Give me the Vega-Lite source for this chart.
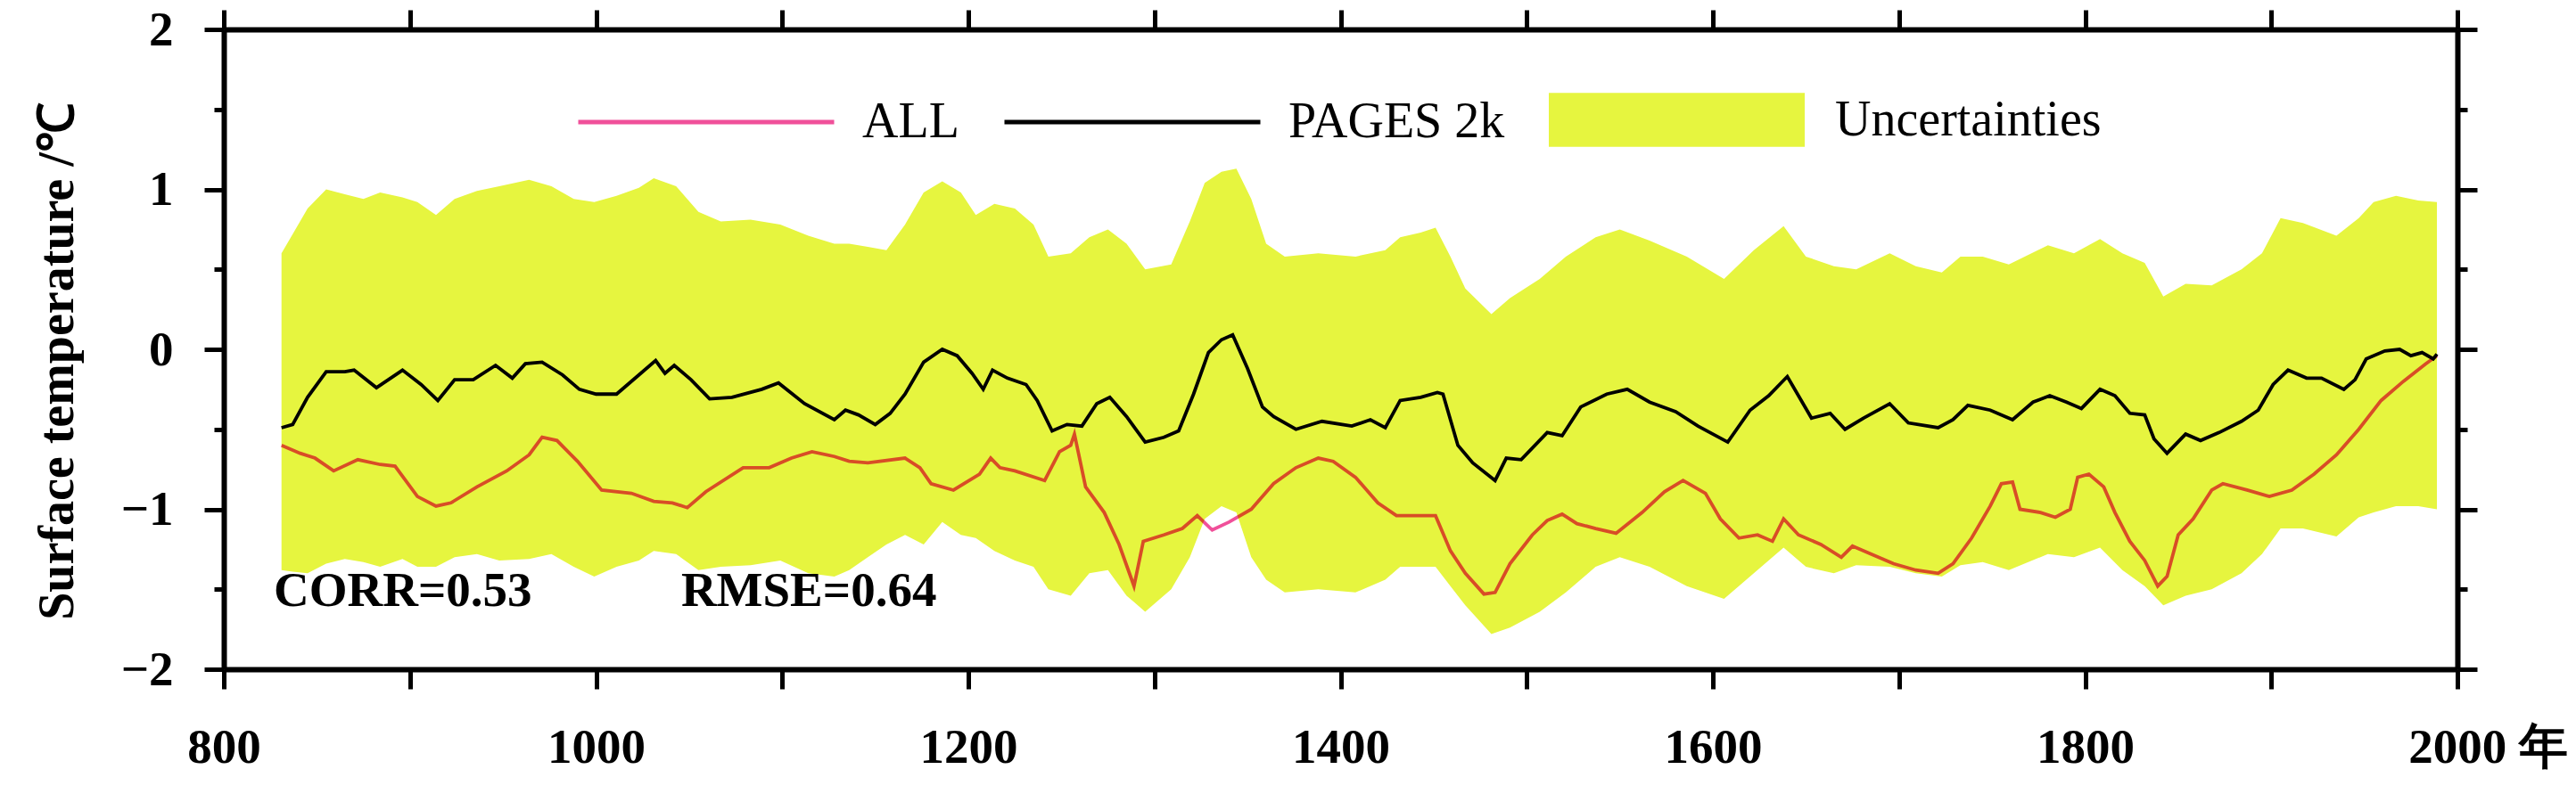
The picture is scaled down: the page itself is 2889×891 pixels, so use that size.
{
  "$schema": "https://vega.github.io/schema/vega-lite/v6.json",
  "width": 2505,
  "height": 718,
  "autosize": {"type": "none"},
  "padding": {"left": 251, "top": 33, "right": 133, "bottom": 140},
  "background": "white",
  "config": {"view": {"stroke": null}, "font": "Liberation Serif"},
  "datasets": {
    "band": [
      {"year": 831, "hi": 0.60, "lo": -1.38}, {"year": 837, "hi": 0.72, "lo": -1.39}, {"year": 845, "hi": 0.88, "lo": -1.40},
      {"year": 855, "hi": 1.00, "lo": -1.34}, {"year": 865, "hi": 0.97, "lo": -1.31}, {"year": 875, "hi": 0.94, "lo": -1.33},
      {"year": 884, "hi": 0.98, "lo": -1.36}, {"year": 896, "hi": 0.95, "lo": -1.31}, {"year": 904, "hi": 0.92, "lo": -1.36},
      {"year": 914, "hi": 0.84, "lo": -1.36}, {"year": 924, "hi": 0.94, "lo": -1.30}, {"year": 936, "hi": 0.99, "lo": -1.28},
      {"year": 948, "hi": 1.02, "lo": -1.32}, {"year": 964, "hi": 1.06, "lo": -1.31}, {"year": 976, "hi": 1.02, "lo": -1.28},
      {"year": 988, "hi": 0.94, "lo": -1.36}, {"year": 999, "hi": 0.92, "lo": -1.42}, {"year": 1011, "hi": 0.96, "lo": -1.36},
      {"year": 1023, "hi": 1.01, "lo": -1.32}, {"year": 1031, "hi": 1.07, "lo": -1.26}, {"year": 1043, "hi": 1.02, "lo": -1.28},
      {"year": 1055, "hi": 0.86, "lo": -1.38}, {"year": 1067, "hi": 0.80, "lo": -1.36}, {"year": 1083, "hi": 0.81, "lo": -1.35},
      {"year": 1099, "hi": 0.78, "lo": -1.32}, {"year": 1114, "hi": 0.71, "lo": -1.40}, {"year": 1128, "hi": 0.66, "lo": -1.42},
      {"year": 1136, "hi": 0.66, "lo": -1.38}, {"year": 1146, "hi": 0.64, "lo": -1.30}, {"year": 1156, "hi": 0.62, "lo": -1.22},
      {"year": 1166, "hi": 0.78, "lo": -1.16}, {"year": 1176, "hi": 0.98, "lo": -1.22}, {"year": 1186, "hi": 1.05, "lo": -1.08},
      {"year": 1196, "hi": 0.98, "lo": -1.16}, {"year": 1204, "hi": 0.84, "lo": -1.18}, {"year": 1214, "hi": 0.91, "lo": -1.26},
      {"year": 1225, "hi": 0.88, "lo": -1.32}, {"year": 1235, "hi": 0.78, "lo": -1.36}, {"year": 1243, "hi": 0.58, "lo": -1.50},
      {"year": 1255, "hi": 0.60, "lo": -1.54}, {"year": 1265, "hi": 0.70, "lo": -1.40}, {"year": 1275, "hi": 0.75, "lo": -1.38},
      {"year": 1285, "hi": 0.66, "lo": -1.54}, {"year": 1295, "hi": 0.50, "lo": -1.64}, {"year": 1309, "hi": 0.53, "lo": -1.50},
      {"year": 1319, "hi": 0.80, "lo": -1.30}, {"year": 1327, "hi": 1.04, "lo": -1.06}, {"year": 1336, "hi": 1.11, "lo": -0.98},
      {"year": 1344, "hi": 1.13, "lo": -1.02}, {"year": 1352, "hi": 0.94, "lo": -1.30}, {"year": 1360, "hi": 0.66, "lo": -1.44},
      {"year": 1370, "hi": 0.58, "lo": -1.52}, {"year": 1388, "hi": 0.60, "lo": -1.50}, {"year": 1408, "hi": 0.58, "lo": -1.52},
      {"year": 1424, "hi": 0.62, "lo": -1.44}, {"year": 1432, "hi": 0.70, "lo": -1.36}, {"year": 1443, "hi": 0.73, "lo": -1.36},
      {"year": 1451, "hi": 0.76, "lo": -1.36}, {"year": 1459, "hi": 0.58, "lo": -1.48}, {"year": 1467, "hi": 0.38, "lo": -1.60},
      {"year": 1481, "hi": 0.22, "lo": -1.78}, {"year": 1491, "hi": 0.32, "lo": -1.74}, {"year": 1507, "hi": 0.44, "lo": -1.64},
      {"year": 1521, "hi": 0.58, "lo": -1.52}, {"year": 1537, "hi": 0.70, "lo": -1.36}, {"year": 1550, "hi": 0.75, "lo": -1.30},
      {"year": 1566, "hi": 0.68, "lo": -1.36}, {"year": 1586, "hi": 0.58, "lo": -1.48}, {"year": 1606, "hi": 0.44, "lo": -1.56},
      {"year": 1622, "hi": 0.62, "lo": -1.40}, {"year": 1638, "hi": 0.77, "lo": -1.24}, {"year": 1650, "hi": 0.58, "lo": -1.36},
      {"year": 1665, "hi": 0.52, "lo": -1.40}, {"year": 1677, "hi": 0.50, "lo": -1.35}, {"year": 1695, "hi": 0.60, "lo": -1.36},
      {"year": 1709, "hi": 0.52, "lo": -1.40}, {"year": 1723, "hi": 0.48, "lo": -1.42}, {"year": 1733, "hi": 0.58, "lo": -1.35},
      {"year": 1745, "hi": 0.58, "lo": -1.33}, {"year": 1759, "hi": 0.53, "lo": -1.38}, {"year": 1780, "hi": 0.65, "lo": -1.28},
      {"year": 1794, "hi": 0.60, "lo": -1.30}, {"year": 1808, "hi": 0.69, "lo": -1.24}, {"year": 1820, "hi": 0.60, "lo": -1.38},
      {"year": 1832, "hi": 0.54, "lo": -1.48}, {"year": 1842, "hi": 0.33, "lo": -1.60}, {"year": 1854, "hi": 0.41, "lo": -1.54},
      {"year": 1868, "hi": 0.40, "lo": -1.50}, {"year": 1884, "hi": 0.50, "lo": -1.40}, {"year": 1895, "hi": 0.60, "lo": -1.28},
      {"year": 1905, "hi": 0.82, "lo": -1.12}, {"year": 1917, "hi": 0.79, "lo": -1.12}, {"year": 1935, "hi": 0.71, "lo": -1.17},
      {"year": 1947, "hi": 0.82, "lo": -1.05}, {"year": 1955, "hi": 0.92, "lo": -1.02}, {"year": 1967, "hi": 0.96, "lo": -0.98},
      {"year": 1979, "hi": 0.93, "lo": -0.98}, {"year": 1989, "hi": 0.92, "lo": -1.00}
    ],
    "lines": [
      {"year": 831, "series": "PAGES 2k", "value": -0.49}, {"year": 837, "series": "PAGES 2k", "value": -0.47}, {"year": 845, "series": "PAGES 2k", "value": -0.30},
      {"year": 855, "series": "PAGES 2k", "value": -0.14}, {"year": 865, "series": "PAGES 2k", "value": -0.14}, {"year": 870, "series": "PAGES 2k", "value": -0.13},
      {"year": 882, "series": "PAGES 2k", "value": -0.24}, {"year": 896, "series": "PAGES 2k", "value": -0.13}, {"year": 906, "series": "PAGES 2k", "value": -0.22},
      {"year": 915, "series": "PAGES 2k", "value": -0.32}, {"year": 924, "series": "PAGES 2k", "value": -0.19}, {"year": 934, "series": "PAGES 2k", "value": -0.19},
      {"year": 946, "series": "PAGES 2k", "value": -0.10}, {"year": 955, "series": "PAGES 2k", "value": -0.18}, {"year": 962, "series": "PAGES 2k", "value": -0.09},
      {"year": 971, "series": "PAGES 2k", "value": -0.08}, {"year": 982, "series": "PAGES 2k", "value": -0.16}, {"year": 991, "series": "PAGES 2k", "value": -0.25},
      {"year": 1000, "series": "PAGES 2k", "value": -0.28}, {"year": 1011, "series": "PAGES 2k", "value": -0.28}, {"year": 1023, "series": "PAGES 2k", "value": -0.16},
      {"year": 1032, "series": "PAGES 2k", "value": -0.07}, {"year": 1037, "series": "PAGES 2k", "value": -0.15}, {"year": 1042, "series": "PAGES 2k", "value": -0.10},
      {"year": 1051, "series": "PAGES 2k", "value": -0.19}, {"year": 1061, "series": "PAGES 2k", "value": -0.31}, {"year": 1073, "series": "PAGES 2k", "value": -0.30},
      {"year": 1089, "series": "PAGES 2k", "value": -0.25}, {"year": 1098, "series": "PAGES 2k", "value": -0.21}, {"year": 1112, "series": "PAGES 2k", "value": -0.34},
      {"year": 1128, "series": "PAGES 2k", "value": -0.44}, {"year": 1134, "series": "PAGES 2k", "value": -0.38}, {"year": 1141, "series": "PAGES 2k", "value": -0.41},
      {"year": 1150, "series": "PAGES 2k", "value": -0.47}, {"year": 1158, "series": "PAGES 2k", "value": -0.40}, {"year": 1166, "series": "PAGES 2k", "value": -0.28},
      {"year": 1176, "series": "PAGES 2k", "value": -0.08}, {"year": 1186, "series": "PAGES 2k", "value": 0.00}, {"year": 1194, "series": "PAGES 2k", "value": -0.04},
      {"year": 1202, "series": "PAGES 2k", "value": -0.15}, {"year": 1208, "series": "PAGES 2k", "value": -0.25}, {"year": 1213, "series": "PAGES 2k", "value": -0.13},
      {"year": 1221, "series": "PAGES 2k", "value": -0.18}, {"year": 1231, "series": "PAGES 2k", "value": -0.22}, {"year": 1237, "series": "PAGES 2k", "value": -0.32},
      {"year": 1245, "series": "PAGES 2k", "value": -0.51}, {"year": 1253, "series": "PAGES 2k", "value": -0.47}, {"year": 1261, "series": "PAGES 2k", "value": -0.48},
      {"year": 1269, "series": "PAGES 2k", "value": -0.34}, {"year": 1276, "series": "PAGES 2k", "value": -0.30}, {"year": 1285, "series": "PAGES 2k", "value": -0.42},
      {"year": 1295, "series": "PAGES 2k", "value": -0.58}, {"year": 1305, "series": "PAGES 2k", "value": -0.55}, {"year": 1313, "series": "PAGES 2k", "value": -0.51},
      {"year": 1321, "series": "PAGES 2k", "value": -0.28}, {"year": 1329, "series": "PAGES 2k", "value": -0.02}, {"year": 1336, "series": "PAGES 2k", "value": 0.06},
      {"year": 1342, "series": "PAGES 2k", "value": 0.09}, {"year": 1350, "series": "PAGES 2k", "value": -0.12}, {"year": 1358, "series": "PAGES 2k", "value": -0.36},
      {"year": 1364, "series": "PAGES 2k", "value": -0.42}, {"year": 1376, "series": "PAGES 2k", "value": -0.50}, {"year": 1390, "series": "PAGES 2k", "value": -0.45},
      {"year": 1406, "series": "PAGES 2k", "value": -0.48}, {"year": 1416, "series": "PAGES 2k", "value": -0.44}, {"year": 1424, "series": "PAGES 2k", "value": -0.49},
      {"year": 1432, "series": "PAGES 2k", "value": -0.32}, {"year": 1443, "series": "PAGES 2k", "value": -0.30}, {"year": 1452, "series": "PAGES 2k", "value": -0.27},
      {"year": 1455, "series": "PAGES 2k", "value": -0.28}, {"year": 1463, "series": "PAGES 2k", "value": -0.60}, {"year": 1471, "series": "PAGES 2k", "value": -0.71},
      {"year": 1483, "series": "PAGES 2k", "value": -0.82}, {"year": 1489, "series": "PAGES 2k", "value": -0.68}, {"year": 1497, "series": "PAGES 2k", "value": -0.69},
      {"year": 1511, "series": "PAGES 2k", "value": -0.52}, {"year": 1519, "series": "PAGES 2k", "value": -0.54}, {"year": 1529, "series": "PAGES 2k", "value": -0.36},
      {"year": 1543, "series": "PAGES 2k", "value": -0.28}, {"year": 1554, "series": "PAGES 2k", "value": -0.25}, {"year": 1566, "series": "PAGES 2k", "value": -0.33},
      {"year": 1580, "series": "PAGES 2k", "value": -0.39}, {"year": 1592, "series": "PAGES 2k", "value": -0.48}, {"year": 1608, "series": "PAGES 2k", "value": -0.58},
      {"year": 1620, "series": "PAGES 2k", "value": -0.38}, {"year": 1630, "series": "PAGES 2k", "value": -0.29}, {"year": 1640, "series": "PAGES 2k", "value": -0.17},
      {"year": 1653, "series": "PAGES 2k", "value": -0.43}, {"year": 1663, "series": "PAGES 2k", "value": -0.40}, {"year": 1671, "series": "PAGES 2k", "value": -0.50},
      {"year": 1681, "series": "PAGES 2k", "value": -0.43}, {"year": 1695, "series": "PAGES 2k", "value": -0.34}, {"year": 1705, "series": "PAGES 2k", "value": -0.46},
      {"year": 1721, "series": "PAGES 2k", "value": -0.49}, {"year": 1729, "series": "PAGES 2k", "value": -0.44}, {"year": 1737, "series": "PAGES 2k", "value": -0.35},
      {"year": 1749, "series": "PAGES 2k", "value": -0.38}, {"year": 1761, "series": "PAGES 2k", "value": -0.44}, {"year": 1772, "series": "PAGES 2k", "value": -0.33},
      {"year": 1781, "series": "PAGES 2k", "value": -0.29}, {"year": 1790, "series": "PAGES 2k", "value": -0.33}, {"year": 1798, "series": "PAGES 2k", "value": -0.37},
      {"year": 1808, "series": "PAGES 2k", "value": -0.25}, {"year": 1816, "series": "PAGES 2k", "value": -0.29}, {"year": 1824, "series": "PAGES 2k", "value": -0.40},
      {"year": 1832, "series": "PAGES 2k", "value": -0.41}, {"year": 1837, "series": "PAGES 2k", "value": -0.56}, {"year": 1844, "series": "PAGES 2k", "value": -0.65},
      {"year": 1854, "series": "PAGES 2k", "value": -0.53}, {"year": 1862, "series": "PAGES 2k", "value": -0.57}, {"year": 1872, "series": "PAGES 2k", "value": -0.52},
      {"year": 1884, "series": "PAGES 2k", "value": -0.45}, {"year": 1893, "series": "PAGES 2k", "value": -0.38}, {"year": 1901, "series": "PAGES 2k", "value": -0.22},
      {"year": 1909, "series": "PAGES 2k", "value": -0.13}, {"year": 1919, "series": "PAGES 2k", "value": -0.18}, {"year": 1927, "series": "PAGES 2k", "value": -0.18},
      {"year": 1939, "series": "PAGES 2k", "value": -0.25}, {"year": 1945, "series": "PAGES 2k", "value": -0.19}, {"year": 1951, "series": "PAGES 2k", "value": -0.06},
      {"year": 1961, "series": "PAGES 2k", "value": -0.01}, {"year": 1969, "series": "PAGES 2k", "value": 0.00}, {"year": 1975, "series": "PAGES 2k", "value": -0.04},
      {"year": 1981, "series": "PAGES 2k", "value": -0.02}, {"year": 1987, "series": "PAGES 2k", "value": -0.06}, {"year": 1989, "series": "PAGES 2k", "value": -0.03},
      {"year": 831, "series": "ALL", "value": -0.60}, {"year": 841, "series": "ALL", "value": -0.65}, {"year": 849, "series": "ALL", "value": -0.68},
      {"year": 859, "series": "ALL", "value": -0.76}, {"year": 872, "series": "ALL", "value": -0.69}, {"year": 884, "series": "ALL", "value": -0.72},
      {"year": 892, "series": "ALL", "value": -0.73}, {"year": 904, "series": "ALL", "value": -0.92}, {"year": 914, "series": "ALL", "value": -0.98},
      {"year": 922, "series": "ALL", "value": -0.96}, {"year": 936, "series": "ALL", "value": -0.86}, {"year": 952, "series": "ALL", "value": -0.76},
      {"year": 964, "series": "ALL", "value": -0.66}, {"year": 971, "series": "ALL", "value": -0.55}, {"year": 979, "series": "ALL", "value": -0.57},
      {"year": 990, "series": "ALL", "value": -0.70}, {"year": 1003, "series": "ALL", "value": -0.88}, {"year": 1019, "series": "ALL", "value": -0.90},
      {"year": 1031, "series": "ALL", "value": -0.95}, {"year": 1041, "series": "ALL", "value": -0.96}, {"year": 1049, "series": "ALL", "value": -0.99},
      {"year": 1059, "series": "ALL", "value": -0.89}, {"year": 1079, "series": "ALL", "value": -0.74}, {"year": 1093, "series": "ALL", "value": -0.74},
      {"year": 1105, "series": "ALL", "value": -0.68}, {"year": 1116, "series": "ALL", "value": -0.64}, {"year": 1128, "series": "ALL", "value": -0.67},
      {"year": 1136, "series": "ALL", "value": -0.70}, {"year": 1146, "series": "ALL", "value": -0.71}, {"year": 1166, "series": "ALL", "value": -0.68},
      {"year": 1174, "series": "ALL", "value": -0.74}, {"year": 1180, "series": "ALL", "value": -0.84}, {"year": 1192, "series": "ALL", "value": -0.88},
      {"year": 1206, "series": "ALL", "value": -0.78}, {"year": 1212, "series": "ALL", "value": -0.68}, {"year": 1217, "series": "ALL", "value": -0.74},
      {"year": 1225, "series": "ALL", "value": -0.76}, {"year": 1241, "series": "ALL", "value": -0.82}, {"year": 1249, "series": "ALL", "value": -0.64},
      {"year": 1255, "series": "ALL", "value": -0.60}, {"year": 1257, "series": "ALL", "value": -0.53}, {"year": 1263, "series": "ALL", "value": -0.86},
      {"year": 1273, "series": "ALL", "value": -1.02}, {"year": 1281, "series": "ALL", "value": -1.22}, {"year": 1289, "series": "ALL", "value": -1.48},
      {"year": 1294, "series": "ALL", "value": -1.20}, {"year": 1305, "series": "ALL", "value": -1.16}, {"year": 1315, "series": "ALL", "value": -1.12},
      {"year": 1323, "series": "ALL", "value": -1.04}, {"year": 1331, "series": "ALL", "value": -1.13}, {"year": 1340, "series": "ALL", "value": -1.08},
      {"year": 1352, "series": "ALL", "value": -1.00}, {"year": 1364, "series": "ALL", "value": -0.84}, {"year": 1376, "series": "ALL", "value": -0.74},
      {"year": 1388, "series": "ALL", "value": -0.68}, {"year": 1396, "series": "ALL", "value": -0.70}, {"year": 1408, "series": "ALL", "value": -0.80},
      {"year": 1420, "series": "ALL", "value": -0.96}, {"year": 1430, "series": "ALL", "value": -1.04}, {"year": 1439, "series": "ALL", "value": -1.04},
      {"year": 1451, "series": "ALL", "value": -1.04}, {"year": 1459, "series": "ALL", "value": -1.26}, {"year": 1467, "series": "ALL", "value": -1.40},
      {"year": 1477, "series": "ALL", "value": -1.53}, {"year": 1483, "series": "ALL", "value": -1.52}, {"year": 1491, "series": "ALL", "value": -1.34},
      {"year": 1503, "series": "ALL", "value": -1.16}, {"year": 1511, "series": "ALL", "value": -1.07}, {"year": 1519, "series": "ALL", "value": -1.03},
      {"year": 1527, "series": "ALL", "value": -1.09}, {"year": 1537, "series": "ALL", "value": -1.12}, {"year": 1548, "series": "ALL", "value": -1.15},
      {"year": 1562, "series": "ALL", "value": -1.02}, {"year": 1574, "series": "ALL", "value": -0.89}, {"year": 1584, "series": "ALL", "value": -0.82},
      {"year": 1596, "series": "ALL", "value": -0.90}, {"year": 1604, "series": "ALL", "value": -1.06}, {"year": 1614, "series": "ALL", "value": -1.18},
      {"year": 1624, "series": "ALL", "value": -1.16}, {"year": 1632, "series": "ALL", "value": -1.20}, {"year": 1638, "series": "ALL", "value": -1.06},
      {"year": 1646, "series": "ALL", "value": -1.16}, {"year": 1658, "series": "ALL", "value": -1.22}, {"year": 1669, "series": "ALL", "value": -1.30},
      {"year": 1675, "series": "ALL", "value": -1.23}, {"year": 1685, "series": "ALL", "value": -1.28}, {"year": 1697, "series": "ALL", "value": -1.34},
      {"year": 1709, "series": "ALL", "value": -1.38}, {"year": 1721, "series": "ALL", "value": -1.40}, {"year": 1729, "series": "ALL", "value": -1.34},
      {"year": 1739, "series": "ALL", "value": -1.18}, {"year": 1749, "series": "ALL", "value": -0.98}, {"year": 1755, "series": "ALL", "value": -0.84},
      {"year": 1761, "series": "ALL", "value": -0.83}, {"year": 1765, "series": "ALL", "value": -1.00}, {"year": 1776, "series": "ALL", "value": -1.02},
      {"year": 1784, "series": "ALL", "value": -1.05}, {"year": 1792, "series": "ALL", "value": -1.00}, {"year": 1796, "series": "ALL", "value": -0.80},
      {"year": 1802, "series": "ALL", "value": -0.78}, {"year": 1810, "series": "ALL", "value": -0.86}, {"year": 1816, "series": "ALL", "value": -1.02},
      {"year": 1824, "series": "ALL", "value": -1.20}, {"year": 1832, "series": "ALL", "value": -1.32}, {"year": 1839, "series": "ALL", "value": -1.48},
      {"year": 1844, "series": "ALL", "value": -1.42}, {"year": 1850, "series": "ALL", "value": -1.16}, {"year": 1858, "series": "ALL", "value": -1.06},
      {"year": 1868, "series": "ALL", "value": -0.88}, {"year": 1874, "series": "ALL", "value": -0.84}, {"year": 1887, "series": "ALL", "value": -0.88},
      {"year": 1899, "series": "ALL", "value": -0.92}, {"year": 1911, "series": "ALL", "value": -0.88}, {"year": 1923, "series": "ALL", "value": -0.78},
      {"year": 1935, "series": "ALL", "value": -0.66}, {"year": 1947, "series": "ALL", "value": -0.50}, {"year": 1959, "series": "ALL", "value": -0.32},
      {"year": 1971, "series": "ALL", "value": -0.20}, {"year": 1983, "series": "ALL", "value": -0.09}, {"year": 1989, "series": "ALL", "value": -0.04}
    ],
    "notes": [
      {"year": 826.8, "value": -1.604, "label": "CORR=0.53"},
      {"year": 1045.7, "value": -1.604, "label": "RMSE=0.64"}
    ]
  },
  "layer": [
    {
      "data": {"name": "band"},
      "mark": {"type": "area", "color": "#e6f53f"},
      "encoding": {
        "x": {
          "field": "year", "type": "quantitative",
          "scale": {"domain": [800, 2000], "nice": false, "zero": false},
          "axis": {
            "orient": "bottom",
            "values": [800, 900, 1000, 1100, 1200, 1300, 1400, 1500, 1600, 1700, 1800, 1900, 2000],
            "format": "d",
            "labelExpr": "datum.value % 200 === 0 ? (datum.value === 2000 ? '2000 年' : datum.label) : ''",
            "labelFont": "Liberation Serif", "labelFontWeight": "bold", "labelFontSize": 55, "labelColor": "black",
            "labelFlush": false, "labelOverlap": false, "labelBound": false,
            "labelBaseline": "alphabetic", "labelPadding": 82,
            "labelOffset": {"condition": {"test": "datum.value === 2000", "value": 34}, "value": 0},
            "tickSize": 22, "tickWidth": 5, "tickColor": "black",
            "domainColor": "black", "domainWidth": 6, "grid": false, "title": null
          }
        },
        "y": {
          "field": "hi", "type": "quantitative",
          "scale": {"domain": [-2, 2], "nice": false, "zero": false},
          "axis": {
            "orient": "left",
            "values": [-2, -1.5, -1, -0.5, 0, 0.5, 1, 1.5, 2],
            "labelExpr": "datum.value % 1 === 0 ? format(datum.value, 'd') : ''",
            "labelFont": "Liberation Serif", "labelFontWeight": "bold", "labelFontSize": 55, "labelColor": "black",
            "labelFlush": false, "labelOverlap": false, "labelBound": false, "labelPadding": 35,
            "tickSize": {"condition": {"test": "datum.value % 1 === 0", "value": 22}, "value": 11},
            "tickWidth": 5, "tickColor": "black",
            "domainColor": "black", "domainWidth": 6, "grid": false,
            "title": "Surface temperature /℃",
            "titleFont": "Liberation Serif", "titleFontWeight": "bold", "titleFontSize": 56, "titleColor": "black",
            "titleAngle": 270, "titleAlign": "center", "titleBaseline": "middle",
            "titleX": -187, "titleY": 372
          }
        },
        "y2": {"field": "lo"},
        "fill": {
          "datum": "Uncertainties",
          "scale": {"domain": ["Uncertainties"], "range": ["#e6f53f"]},
          "legend": {
            "orient": "none", "legendX": 1486, "legendY": -42, "direction": "horizontal", "title": null,
            "symbolType": "M-1,-0.21H1V0.21H-1Z", "symbolSize": 82369, "symbolStrokeWidth": 0, "symbolOpacity": 1,
            "labelFont": "Liberation Serif", "labelFontSize": 56, "labelColor": "black", "labelOffset": 34, "labelLimit": 1000
          }
        }
      }
    },
    {
      "data": {"name": "lines"},
      "mark": {"type": "line", "strokeWidth": 3.8, "blend": "multiply"},
      "encoding": {
        "x": {
          "field": "year", "type": "quantitative",
          "axis": {
            "orient": "top",
            "values": [800, 900, 1000, 1100, 1200, 1300, 1400, 1500, 1600, 1700, 1800, 1900, 2000],
            "labels": false, "tickSize": 22, "tickWidth": 5, "tickColor": "black",
            "domainColor": "black", "domainWidth": 6, "grid": false, "title": null
          }
        },
        "y": {
          "field": "value", "type": "quantitative",
          "axis": {
            "orient": "right",
            "values": [-2, -1.5, -1, -0.5, 0, 0.5, 1, 1.5, 2],
            "labels": false,
            "tickSize": {"condition": {"test": "datum.value % 1 === 0", "value": 22}, "value": 11},
            "tickWidth": 5, "tickColor": "black",
            "domainColor": "black", "domainWidth": 6, "grid": false, "title": null
          }
        },
        "stroke": {
          "field": "series", "type": "nominal",
          "scale": {"domain": ["ALL", "PAGES 2k"], "range": ["#f0509a", "#000000"]},
          "legend": {
            "orient": "none", "legendX": 395, "legendY": -42, "direction": "horizontal", "title": null,
            "symbolType": "stroke", "symbolSize": 82369, "symbolStrokeWidth": 5,
            "labelFont": "Liberation Serif", "labelFontSize": 56, "labelColor": "black", "labelOffset": 29, "labelLimit": 1000,
            "columnPadding": 40
          }
        }
      }
    },
    {
      "data": {"name": "notes"},
      "mark": {"type": "text", "font": "Liberation Serif", "fontWeight": "bold", "fontSize": 55, "align": "left", "baseline": "alphabetic", "color": "black"},
      "encoding": {
        "x": {"field": "year", "type": "quantitative", "axis": null},
        "y": {"field": "value", "type": "quantitative", "axis": null},
        "text": {"field": "label"}
      }
    }
  ],
  "resolve": {"axis": {"x": "independent", "y": "independent"}}
}
